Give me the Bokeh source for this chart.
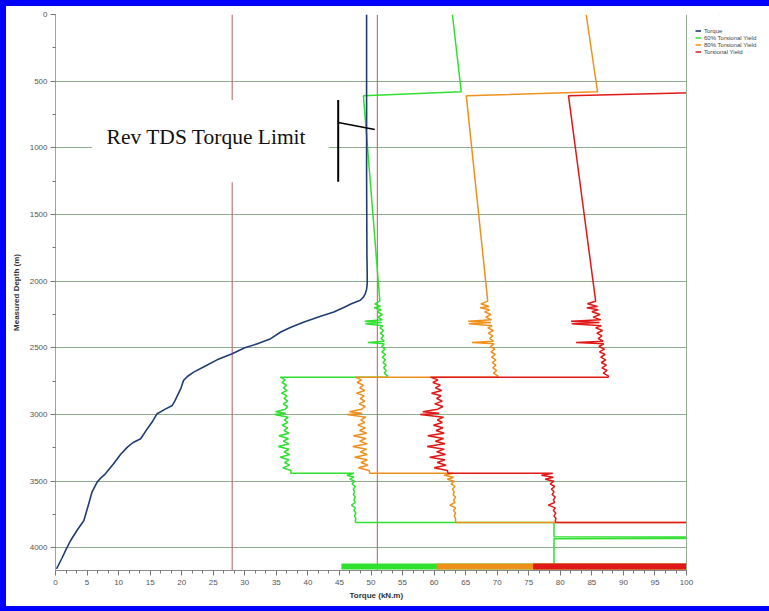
from bokeh.plotting import figure
from bokeh.models import Range1d, SingleIntervalTicker, Legend, LegendItem, Title
from bokeh.embed import file_html
from bokeh.resources import INLINE
from bokeh.core.properties import value

# ---------------- data ----------------
torque_depth = [0, 600, 1200, 1800, 1950, 2018, 2060, 2093, 2120, 2143, 2170, 2200, 2231, 2265,
                2306, 2345, 2381, 2431, 2470, 2500, 2544, 2590, 2640, 2682, 2715, 2744, 2800,
                2860, 2900, 2932, 2960, 2994, 3050, 3110, 3182, 3210, 3245, 3300, 3370, 3445,
                3475, 3507, 3580, 3680, 3795, 3870, 3945, 4010, 4080, 4157]
torque = [49.3, 49.3, 49.3, 49.35, 49.4, 49.4, 49.3, 49.1, 48.8, 48.3, 46.9, 45.6, 44.1, 41.9,
          39.4, 37.3, 35.7, 34.1, 32.0, 30.0, 28.0, 25.6, 23.6, 21.9, 20.9, 20.3, 19.9,
          19.3, 18.9, 18.5, 17.4, 16.1, 15.4, 14.5, 13.5, 12.3, 11.4, 10.3, 9.2, 7.9,
          7.2, 6.6, 5.8, 5.2, 4.5, 3.4, 2.4, 1.7, 1.0, 0.16]

# upper pipe sections (0 - 2150 m)
top_depth = [0, 580, 610]
ty_top = [105.2, 107.4, 81.3]
y80_top = [84.1, 85.9, 65.1]
y60_top = [62.9, 64.3, 48.8]

# section A (2150 - 2720 m)
sec_a_depth = [2150, 2170, 2190, 2200, 2215, 2230, 2250, 2270, 2290, 2300, 2310, 2320, 2335, 2350,
               2370, 2390, 2410, 2430, 2450, 2460, 2470, 2490, 2510, 2530, 2550, 2570, 2590, 2610,
               2630, 2650, 2670, 2690, 2710, 2720]
ty_a = [85.6, 84.3, 85.9, 84.2, 86.0, 85.0, 86.3, 85.2, 86.4, 81.7, 86.2, 81.8, 86.5, 85.6,
        86.7, 85.8, 86.6, 86.0, 86.8, 82.5, 86.9, 86.1, 87.0, 86.2, 87.1, 86.4, 87.2, 86.5,
        87.3, 86.6, 87.4, 86.8, 87.6, 87.6]
y80_a = [68.5, 67.4, 68.7, 67.3, 68.8, 68.0, 69.0, 68.2, 69.1, 65.4, 69.0, 65.5, 69.2, 68.5,
         69.4, 68.6, 69.3, 68.8, 69.4, 66.0, 69.5, 68.9, 69.6, 69.0, 69.7, 69.1, 69.8, 69.2,
         69.8, 69.3, 69.9, 69.4, 70.1, 70.1]
y60_a = [51.4, 50.6, 51.5, 50.5, 51.6, 51.0, 51.8, 51.1, 51.8, 49.0, 51.7, 49.1, 51.9, 51.4,
         52.0, 51.5, 52.0, 51.6, 52.1, 49.5, 52.1, 51.7, 52.2, 51.7, 52.3, 51.8, 52.3, 51.9,
         52.4, 52.0, 52.4, 52.1, 52.6, 52.6]

# section B (2720 - 3440 m)
sec_b_depth = [2720, 2740, 2760, 2780, 2800, 2820, 2840, 2860, 2880, 2900, 2920, 2940, 2960, 2980,
               2990, 3000, 3020, 3040, 3060, 3080, 3100, 3120, 3140, 3160, 3180, 3200, 3220, 3240,
               3260, 3280, 3300, 3320, 3340, 3360, 3380, 3400, 3420, 3440]
ty_b = [59.4, 60.6, 59.8, 61.0, 60.2, 61.2, 59.6, 61.1, 60.4, 61.3, 60.1, 61.4, 60.6, 58.2,
        60.8, 57.8, 61.5, 60.5, 61.3, 59.9, 61.4, 60.3, 61.6, 59.0, 61.5, 60.2, 61.7, 58.9,
        61.6, 60.4, 61.8, 59.3, 61.7, 60.5, 61.9, 60.0, 62.1, 62.2]
y80_b = [47.5, 48.5, 47.8, 48.8, 48.2, 49.0, 47.7, 48.9, 48.3, 49.0, 48.1, 49.1, 48.5, 46.6,
         48.6, 46.2, 49.2, 48.4, 49.0, 47.9, 49.1, 48.2, 49.3, 47.2, 49.2, 48.2, 49.4, 47.1,
         49.3, 48.3, 49.4, 47.4, 49.4, 48.4, 49.5, 48.0, 49.7, 49.8]
y60_b = [35.6, 36.4, 35.9, 36.6, 36.1, 36.7, 35.8, 36.7, 36.2, 36.8, 36.1, 36.8, 36.4, 34.9,
         36.5, 34.7, 36.9, 36.3, 36.8, 35.9, 36.8, 36.2, 37.0, 35.4, 36.9, 36.1, 37.0, 35.3,
         37.0, 36.2, 37.1, 35.6, 37.0, 36.3, 37.1, 36.0, 37.3, 37.3]

# section C (3440 - 3810 m)
sec_c_depth = [3440, 3455, 3470, 3485, 3500, 3520, 3540, 3560, 3580, 3600, 3620, 3640, 3660, 3680,
               3700, 3720, 3740, 3760, 3780, 3800, 3810]
ty_c = [78.8, 77.0, 78.9, 77.6, 79.0, 78.4, 79.1, 78.6, 79.0, 78.7, 79.2, 78.9, 79.1, 78.1,
        79.2, 78.9, 79.3, 79.0, 79.3, 79.2, 79.3]
y80_c = [63.0, 61.6, 63.1, 62.1, 63.2, 62.7, 63.3, 62.9, 63.2, 63.0, 63.4, 63.1, 63.3, 62.5,
         63.4, 63.1, 63.4, 63.2, 63.4, 63.4, 63.4]
y60_c = [47.3, 46.2, 47.3, 46.6, 47.4, 47.0, 47.5, 47.2, 47.4, 47.2, 47.5, 47.3, 47.5, 46.9,
         47.5, 47.3, 47.6, 47.4, 47.6, 47.5, 47.6]

# lowest section (below 3810 m)
ty_tail_depth = [3810]
ty_tail = [132.0]
y80_tail_depth = [3810]
y80_tail = [105.5]
y60_tail_depth = [3810, 3917, 3919, 3929, 3931, 4140]
y60_tail = [79.0, 79.0, 112.0, 112.0, 79.0, 79.0]

# bottom-hole values (thick bars)
bar_depth = [4140, 4140, 4140]
bar_start = [45.3, 60.4, 75.7]
bar_end = [100, 100, 100]

# reference torque lines
ref_lines = [28, 51]

# annotation
note_text = "Rev TDS Torque Limit"

# ---------------- figure ----------------
GRID = "#8cae8c"
BLUE = "#1f3d73"
GREEN = "#2fe02f"
ORANGE = "#f0901c"
RED = "#e01818"

X_MAX = 100
DEPTH_MAX = 4170

# the frame runs to the right edge of the page so the legend can sit beside the plot area;
# the plot area itself is bounded at X_MAX.
p = figure(width=769, height=611, output_backend="svg", toolbar_location=None,
           x_range=Range1d(0, 113.15), y_range=Range1d(DEPTH_MAX, 0),
           min_border_left=55, min_border_right=0, min_border_top=14, min_border_bottom=41,
           background_fill_color="white", border_fill_alpha=0)
p.styles = {"box-shadow": "inset 6px 0 0 0 #0000ff, inset 0 6px 0 0 #0000ff, inset 0 -5px 0 0 #0000ff",
            "background-color": "white"}

p.outline_line_color = None
p.xgrid.visible = False
p.ygrid.grid_line_color = GRID
p.ygrid.grid_line_width = 1

p.xaxis.ticker = SingleIntervalTicker(interval=5, num_minor_ticks=3)
p.yaxis.ticker = SingleIntervalTicker(interval=500, num_minor_ticks=2)
p.xaxis.bounds = (0, X_MAX)

tick_font = "Liberation Sans Narrow, Liberation Sans"
for ax in (p.xaxis[0], p.yaxis[0]):
    ax.axis_line_color = "#8a8a8a"
    ax.major_tick_line_color = "#777777"
    ax.minor_tick_line_color = "#777777"
    ax.major_tick_in = 0
    ax.minor_tick_in = 0
    ax.major_tick_out = 5
    ax.minor_tick_out = 3
    ax.major_label_text_font = tick_font
    ax.major_label_text_font_size = "8px"
    ax.major_label_text_color = "#555555"
    ax.axis_label_text_font = "Liberation Sans"
    ax.axis_label_text_font_size = "8px"
    ax.axis_label_text_font_style = "bold"
    ax.axis_label_text_color = "#333333"
p.yaxis.axis_line_color = GRID

p.yaxis.axis_label = "Measured Depth (m)"
p.xaxis.major_label_standoff = 4
p.yaxis.major_label_standoff = 3
p.yaxis.axis_label_standoff = 6

# x-axis title, centred under the bounded plot area
p.add_layout(Title(text="Torque (kN.m)", align="left", offset=294, standoff=3,
                   text_font="Liberation Sans", text_font_size="8px",
                   text_font_style="bold", text_color="#333333"), "below")

# red reference lines (glyphs so the note box can cover them)
p.segment(x0=ref_lines, x1=ref_lines, y0=[0] * len(ref_lines), y1=[DEPTH_MAX] * len(ref_lines),
          line_color="#c05a5a", line_width=1)

# white note box
p.quad(left=[5.8], right=[43.3], top=[642], bottom=[1258], fill_color="white",
       line_color=None)

# series
ty_depth = top_depth + sec_a_depth + sec_b_depth + sec_c_depth + ty_tail_depth
ty_vals = ty_top + ty_a + ty_b + ty_c + ty_tail
y80_depth = top_depth + sec_a_depth + sec_b_depth + sec_c_depth + y80_tail_depth
y80_vals = y80_top + y80_a + y80_b + y80_c + y80_tail
y60_depth = top_depth + sec_a_depth + sec_b_depth + sec_c_depth + y60_tail_depth
y60_vals = y60_top + y60_a + y60_b + y60_c + y60_tail

r60 = p.line(y60_vals, y60_depth, line_color=GREEN, line_width=1.5)
r80 = p.line(y80_vals, y80_depth, line_color=ORANGE, line_width=1.5)
rty = p.line(ty_vals, ty_depth, line_color=RED, line_width=1.5)

bar_colors = [GREEN, ORANGE, RED]
p.segment(x0=bar_start, x1=bar_end, y0=bar_depth, y1=bar_depth, line_color=bar_colors,
          line_width=6)

rt = p.line(torque, torque_depth, line_color=BLUE, line_width=1.6)

# mask everything right of the plot area, then draw its right border
p.quad(left=[X_MAX], right=[120], top=[-50], bottom=[DEPTH_MAX + 50], fill_color="white",
       line_color=None)
p.segment(x0=[X_MAX], x1=[X_MAX], y0=[0], y1=[DEPTH_MAX], line_color=GRID, line_width=1)

# annotation text and pointer
p.text(x=[8.1], y=[920], text=[note_text], text_font=value("Liberation Serif"),
       text_font_size="21.5px", text_baseline="alphabetic", text_align="left",
       text_color="#111111")
p.segment(x0=[44.8], x1=[44.8], y0=[642], y1=[1255], line_color="black", line_width=2)
p.segment(x0=[44.8], x1=[50.6], y0=[810], y1=[862], line_color="black", line_width=1.5)

legend = Legend(items=[LegendItem(label="Torque", renderers=[rt]),
                       LegendItem(label="60% Torsional Yield", renderers=[r60]),
                       LegendItem(label="80% Torsional Yield", renderers=[r80]),
                       LegendItem(label="Torsional Yield", renderers=[rty])],
                location=(640, 515), label_text_font="Liberation Sans",
                label_text_font_size="6px", label_text_color="#444444",
                label_height=7, glyph_height=7, glyph_width=6, label_standoff=3,
                spacing=0, padding=0, margin=0, border_line_color=None,
                background_fill_alpha=0)
p.add_layout(legend)

open("out.html", "w").write(file_html(p, INLINE))
